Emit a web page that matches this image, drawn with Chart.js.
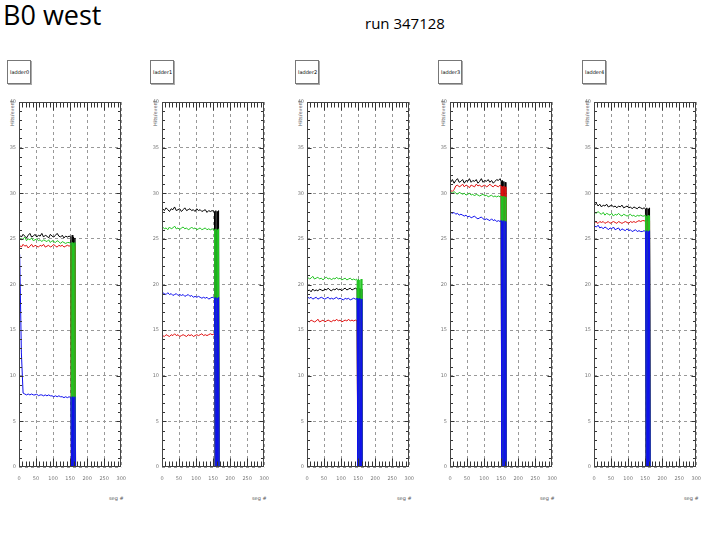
<!DOCTYPE html>
<html lang="en">
<head>
    <meta charset="UTF-8">
    <title>B0 west - run 347128</title>
    <script src="https://cdn.jsdelivr.net/npm/chart.js"></script>
    <style>
        body { margin: 0; background: #fff; font-family: "Open Sans", sans-serif; }
        #page { position: relative; width: 720px; height: 540px; overflow: hidden; }
        .abs { position: absolute; white-space: nowrap; }
        #title { left: 3px; top: -4px; font-size: 27px; color: #000; }
        #run { left: 365px; top: 13px; font-size: 15px; color: #000; }
        .pave { border: 1px solid #777; box-shadow: 1px 1px 0 #aaa; width: 22px; height: 22px; background: #fff; }
        .pave span { position: absolute; left: 2px; top: 8px; font-size: 5px; font-family: "DejaVu Sans", sans-serif; }
        .tiny { font-size: 5px; font-family: "DejaVu Sans", sans-serif; color: #555; }
        canvas { position: absolute; }
    </style>
</head>
<body>
<div id="page">
    <div id="title" class="abs">B0 west</div>
    <div id="run" class="abs">run 347128</div>
</div>

<script>
    // ladder names and tick labels
    const ladders = ['ladder0', 'ladder1', 'ladder2', 'ladder3', 'ladder4'];
    const xTickLabels = [0, 50, 100, 150, 200, 250, 300];
    const yTickLabels = [0, 5, 10, 15, 20, 25, 30, 35, 40];

    // seg # of the sampled points (plateau), then the tail where the hits fall to 0
    const mainSeg = [2, 7, 12, 17, 22, 27, 32, 37, 42, 47, 52, 57, 62, 67, 72, 77, 82, 87, 92, 97, 102, 107, 112, 117, 122, 127, 132, 137, 142];
    const tailSeg0 = [147, 152, 154, 156, 158, 160, 162, 164, 166, 168];
    const tailSeg1 = [147, 154, 156, 158, 160, 162, 164, 166, 168, 171];
    const tailSeg2 = [145, 147, 149, 151, 153, 155, 157, 159, 161, 163];
    const tailSeg3 = [147, 150, 152, 154, 156, 158, 160, 162, 164, 166];
    const tailSeg4 = [147, 151, 153, 155, 157, 159, 161, 163, 165, 168];

    // hits/event, ladder0
    const l0Black = [25.4, 25.2, 25.5, 25.3, 25.1, 25.4, 25.6, 25.2, 25.3, 25.5, 25.2, 25.4, 25.3, 25.6, 25.2, 25.4, 25.3, 25.1, 25.5, 25.3, 25.2, 25.4, 25.6, 25.3, 25.2, 25.4, 25.1, 25.3, 25.2,
                     25.3, 25.2, 0, 25.4, 0, 25.2, 0, 25.1, 0, 0];
    const l0Red = [24.3, 24.1, 24.4, 24.2, 24.3, 24.0, 24.2, 24.4, 24.1, 24.3, 24.2, 24.1, 24.3, 24.2, 24.4, 24.1, 24.2, 24.3, 24.1, 24.2, 24.4, 24.2, 24.1, 24.3, 24.2, 24.3, 24.1, 24.2, 24.3,
                   24.2, 24.3, 0, 24.2, 0, 24.3, 0, 24.2, 0, 0];
    const l0Green = [25.1, 24.9, 25.0, 25.2, 24.8, 25.0, 24.9, 25.1, 24.8, 24.9, 25.0, 24.8, 24.9, 24.7, 24.9, 24.8, 24.7, 24.9, 24.6, 24.8, 24.7, 24.6, 24.8, 24.7, 24.5, 24.7, 24.6, 24.5, 24.6,
                     24.6, 24.5, 0, 24.6, 0, 24.5, 0, 24.6, 0, 0];
    const l0Blue = [23.3, 12.5, 8.1, 8.0, 7.9, 8.0, 7.9, 8.0, 7.9, 7.9, 8.0, 7.8, 7.9, 7.9, 7.8, 7.9, 7.8, 7.9, 7.8, 7.8, 7.7, 7.8, 7.7, 7.8, 7.7, 7.7, 7.6, 7.7, 7.6,
                    7.7, 7.6, 0, 7.7, 0, 7.6, 0, 7.7, 0, 0];

    // ladder1
    const l1Black = [28.3, 28.1, 28.4, 28.2, 28.0, 28.3, 28.2, 28.5, 28.1, 28.2, 28.3, 28.0, 28.2, 28.4, 28.1, 28.2, 28.3, 28.1, 28.2, 28.0, 28.3, 28.1, 28.2, 28.0, 28.1, 28.2, 27.9, 28.1, 28.0,
                     28.1, 28.0, 0, 28.1, 0, 28.0, 0, 28.1, 0, 0];
    const l1Red = [14.4, 14.3, 14.5, 14.4, 14.3, 14.5, 14.4, 14.6, 14.4, 14.5, 14.3, 14.4, 14.5, 14.4, 14.3, 14.5, 14.4, 14.5, 14.3, 14.4, 14.5, 14.4, 14.5, 14.6, 14.4, 14.5, 14.4, 14.5, 14.6,
                   14.5, 14.6, 0, 14.5, 0, 14.6, 0, 14.5, 0, 0];
    const l1Green = [26.3, 26.1, 26.2, 26.0, 26.3, 26.1, 26.2, 26.4, 26.1, 26.2, 26.0, 26.2, 26.3, 26.1, 26.2, 26.0, 26.1, 26.3, 26.1, 26.2, 26.0, 26.1, 26.2, 26.0, 26.1, 26.2, 26.0, 26.1, 26.0,
                     26.1, 26.0, 0, 26.1, 0, 26.0, 0, 26.1, 0, 0];
    const l1Blue = [19.1, 19.0, 18.9, 19.1, 18.9, 19.0, 18.8, 18.9, 19.0, 18.8, 18.9, 18.8, 18.9, 18.7, 18.8, 18.9, 18.7, 18.8, 18.6, 18.7, 18.6, 18.7, 18.6, 18.5, 18.6, 18.5, 18.6, 18.4, 18.5,
                    18.6, 18.5, 0, 18.6, 0, 18.5, 0, 18.6, 0, 0];

    // ladder2
    const l2Black = [19.3, 19.4, 19.2, 19.5, 19.3, 19.4, 19.3, 19.5, 19.4, 19.3, 19.5, 19.4, 19.6, 19.4, 19.3, 19.5, 19.4, 19.6, 19.4, 19.5, 19.3, 19.5, 19.6, 19.4, 19.5, 19.6, 19.4, 19.5, 19.6,
                     19.5, 19.6, 0, 19.5, 0, 19.6, 0, 19.5, 0, 0];
    const l2Red = [16.0, 15.9, 16.1, 16.0, 15.9, 16.0, 16.2, 15.9, 16.0, 16.1, 15.9, 16.0, 16.1, 16.0, 15.9, 16.1, 16.0, 16.2, 16.0, 16.1, 15.9, 16.0, 16.1, 16.0, 16.2, 16.0, 16.1, 16.0, 16.1,
                   16.0, 16.1, 0, 16.0, 0, 16.1, 0, 16.0, 0, 0];
    const l2Green = [20.8, 20.6, 20.7, 20.9, 20.6, 20.7, 20.8, 20.6, 20.7, 20.5, 20.7, 20.8, 20.6, 20.7, 20.5, 20.7, 20.6, 20.8, 20.6, 20.7, 20.5, 20.6, 20.7, 20.5, 20.6, 20.7, 20.5, 20.6, 20.5,
                     20.6, 20.5, 0, 20.6, 0, 20.5, 0, 20.6, 0, 0];
    const l2Blue = [18.6, 18.5, 18.6, 18.4, 18.5, 18.6, 18.4, 18.5, 18.6, 18.5, 18.4, 18.5, 18.6, 18.4, 18.5, 18.4, 18.5, 18.6, 18.4, 18.5, 18.4, 18.3, 18.5, 18.4, 18.5, 18.3, 18.4, 18.5, 18.4,
                    18.4, 18.5, 0, 18.4, 0, 18.5, 0, 18.4, 0, 0];

    // ladder3
    const l3Black = [31.2, 31.5, 31.1, 31.4, 31.6, 31.2, 31.3, 31.5, 31.1, 31.4, 31.3, 31.6, 31.2, 31.4, 31.3, 31.5, 31.1, 31.3, 31.6, 31.2, 31.4, 31.3, 31.5, 31.2, 31.4, 31.1, 31.3, 31.5, 31.4,
                     31.6, 31.3, 0, 31.4, 0, 31.3, 0, 31.2, 0, 0];
    const l3Red = [30.3, 30.2, 30.4, 30.8, 30.9, 30.7, 30.8, 31.0, 30.7, 30.9, 30.8, 30.6, 30.9, 30.8, 30.7, 31.0, 30.8, 30.9, 30.7, 30.8, 30.9, 30.7, 30.8, 31.0, 30.8, 30.7, 30.9, 30.8, 30.7,
                   30.9, 30.8, 0, 30.7, 0, 30.8, 0, 30.7, 0, 0];
    const l3Green = [30.1, 30.0, 30.2, 30.0, 29.9, 30.1, 30.0, 29.9, 30.0, 29.8, 29.9, 30.0, 29.8, 29.9, 29.7, 29.9, 29.8, 29.7, 29.8, 29.9, 29.7, 29.8, 29.6, 29.7, 29.8, 29.6, 29.7, 29.6, 29.7,
                     29.6, 29.7, 0, 29.6, 0, 29.7, 0, 29.6, 0, 0];
    const l3Blue = [27.9, 27.8, 27.9, 27.7, 27.8, 27.6, 27.7, 27.6, 27.5, 27.6, 27.4, 27.5, 27.3, 27.4, 27.5, 27.3, 27.2, 27.3, 27.4, 27.2, 27.1, 27.2, 27.1, 27.0, 27.2, 27.0, 27.1, 26.9, 27.0,
                    26.9, 27.0, 0, 26.9, 0, 27.0, 0, 26.9, 0, 0];

    // ladder4
    const l4Black = [28.7, 28.9, 28.6, 28.8, 28.5, 28.7, 28.6, 28.8, 28.5, 28.6, 28.7, 28.5, 28.6, 28.4, 28.6, 28.5, 28.7, 28.4, 28.5, 28.6, 28.4, 28.5, 28.3, 28.5, 28.4, 28.3, 28.5, 28.4, 28.3,
                     28.4, 28.3, 0, 28.4, 0, 28.3, 0, 28.4, 0, 0];
    const l4Red = [26.9, 26.8, 26.7, 26.9, 26.8, 26.9, 26.7, 26.8, 26.9, 26.7, 26.8, 26.9, 26.8, 26.7, 26.9, 26.8, 26.7, 26.8, 26.9, 26.8, 26.7, 26.9, 26.8, 26.9, 26.8, 26.9, 27.0, 26.9, 27.0,
                   27.0, 26.9, 0, 27.0, 0, 26.9, 0, 27.0, 0, 0];
    const l4Green = [27.9, 27.8, 28.0, 27.8, 27.7, 27.9, 27.6, 27.8, 27.7, 27.6, 27.8, 27.5, 27.7, 27.6, 27.8, 27.6, 27.5, 27.7, 27.6, 27.5, 27.6, 27.7, 27.5, 27.6, 27.4, 27.6, 27.5, 27.6, 27.5,
                     27.5, 27.6, 0, 27.5, 0, 27.6, 0, 27.5, 0, 0];
    const l4Blue = [26.4, 26.3, 26.5, 26.2, 26.3, 26.1, 26.3, 26.2, 26.0, 26.2, 26.1, 26.3, 26.0, 26.1, 26.2, 25.9, 26.1, 26.0, 25.9, 26.1, 25.9, 26.0, 25.8, 25.9, 26.0, 25.8, 25.9, 25.8, 25.8,
                    25.9, 25.8, 0, 25.9, 0, 25.8, 0, 25.9, 0, 0];

    const panels = [
        { tail: tailSeg0, black: l0Black, red: l0Red, green: l0Green, blue: l0Blue },
        { tail: tailSeg1, black: l1Black, red: l1Red, green: l1Green, blue: l1Blue },
        { tail: tailSeg2, black: l2Black, red: l2Red, green: l2Green, blue: l2Blue },
        { tail: tailSeg3, black: l3Black, red: l3Red, green: l3Green, blue: l3Blue },
        { tail: tailSeg4, black: l4Black, red: l4Red, green: l4Green, blue: l4Blue }
    ];

    // page layout: left edge of each plot frame
    const plotLeft = [19, 162, 307, 450, 594];
    const plotTop = 102, plotW = 104, plotH = 365;

    // ROOT-style frame with inward ticks on all four sides
    const rootFrame = {
        id: 'rootFrame',
        afterDatasetsDraw(chart) {
            const { ctx, chartArea: a, scales: { x, y } } = chart;
            const l = Math.round(a.left) + 0.5, r = Math.round(a.right) - 0.5;
            const t = Math.round(a.top) + 0.5, b = Math.round(a.bottom) - 0.5;
            ctx.save();
            ctx.strokeStyle = '#333';
            ctx.lineWidth = 1;
            ctx.beginPath();
            for (let s = 10; s < 300; s += 10) {
                const px = Math.round(x.getPixelForValue(s)) + 0.5;
                const len = s % 50 === 0 ? 8 : 5;
                ctx.moveTo(px, b); ctx.lineTo(px, b - len);
                ctx.moveTo(px, t); ctx.lineTo(px, t + len);
            }
            for (let v = 1; v < 40; v++) {
                const py = Math.round(y.getPixelForValue(v)) + 0.5;
                const len = v % 5 === 0 ? 4 : 2.5;
                ctx.moveTo(l, py); ctx.lineTo(l + len, py);
                ctx.moveTo(r, py); ctx.lineTo(r - len, py);
            }
            ctx.stroke();
            ctx.strokeStyle = '#444';
            ctx.strokeRect(l, t, r - l, b - t);
            ctx.restore();
        }
    };

    const page = document.getElementById('page');

    function addText(cls, text, css) {
        const d = document.createElement('div');
        d.className = 'abs ' + cls;
        d.textContent = text;
        Object.assign(d.style, css);
        page.appendChild(d);
        return d;
    }

    function series(p, values) {
        const segs = mainSeg.concat(p.tail);
        return values.map((v, i) => ({ x: segs[i], y: v }));
    }

    panels.forEach((p, i) => {
        const L = plotLeft[i];

        // title pave
        const pave = document.createElement('div');
        pave.className = 'abs pave';
        pave.style.left = (L - 12) + 'px';
        pave.style.top = '60px';
        const sp = document.createElement('span');
        sp.textContent = ladders[i];
        pave.appendChild(sp);
        page.appendChild(pave);

        // axis titles
        addText('tiny', 'Hits/event', {
            left: (L - 10) + 'px', top: (plotTop + 24) + 'px',
            transformOrigin: 'left top', transform: 'rotate(-90deg)', lineHeight: '6px'
        });
        addText('tiny', 'seg #', {
            left: (L + plotW - 14) + 'px', top: '495px', lineHeight: '6px'
        });

        const canvas = document.createElement('canvas');
        canvas.width = plotW + 32;
        canvas.height = plotH + 25;
        canvas.style.left = (L - 20) + 'px';
        canvas.style.top = (plotTop - 7) + 'px';
        page.appendChild(canvas);

        const mk = (data, color) => ({
            data: series(p, data),
            borderColor: color,
            borderWidth: 1,
            pointRadius: 0,
            tension: 0,
            fill: false
        });

        new Chart(canvas.getContext('2d'), {
            type: 'line',
            data: {
                // first dataset is drawn last, so blue ends up on top like in ROOT
                datasets: [
                    mk(p.blue, '#1010ee'),
                    mk(p.green, '#22c422'),
                    mk(p.red, '#e01010'),
                    mk(p.black, '#000000')
                ]
            },
            options: {
                responsive: false,
                devicePixelRatio: 1,
                animation: false,
                layout: { padding: { top: 7, right: 12, left: 0, bottom: 0 } },
                plugins: { legend: { display: false }, tooltip: { enabled: false } },
                scales: {
                    x: {
                        type: 'linear',
                        min: xTickLabels[0],
                        max: xTickLabels[xTickLabels.length - 1],
                        afterFit: s => { s.height = 18; },
                        afterBuildTicks: s => { s.ticks = xTickLabels.map(v => ({ value: v })); },
                        ticks: { autoSkip: false, maxRotation: 0, padding: 9, color: '#777', font: { size: 5, family: 'DejaVu Sans' } },
                        grid: { color: '#999', drawTicks: false },
                        border: { display: false, dash: [3, 3] }
                    },
                    y: {
                        min: yTickLabels[0],
                        max: yTickLabels[yTickLabels.length - 1],
                        afterFit: s => { s.width = 20; },
                        afterBuildTicks: s => { s.ticks = yTickLabels.map(v => ({ value: v })); },
                        ticks: { padding: 3, color: '#777', font: { size: 5, family: 'DejaVu Sans' } },
                        grid: { color: '#999', drawTicks: false },
                        border: { display: false, dash: [3, 3] }
                    }
                }
            },
            plugins: [rootFrame]
        });
    });
</script>
</body>
</html>
